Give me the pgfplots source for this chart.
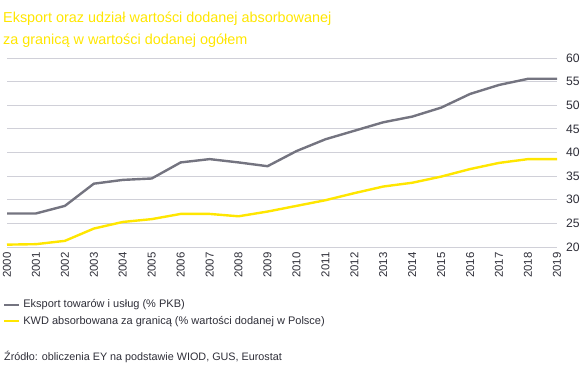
\documentclass[border=0pt]{standalone}
\usepackage{pgfplots}
\pgfplotsset{compat=1.18}
\usepackage{fontspec}
\setmainfont{Liberation Sans}
\definecolor{eyyellow}{HTML}{FFE600}
\definecolor{eygrey}{HTML}{747480}
\definecolor{gridc}{HTML}{D0D0D8}
\definecolor{txt}{HTML}{2E2E38}
\begin{document}
\begin{tikzpicture}
\useasboundingbox (0pt,0pt) rectangle (582pt,370pt);
\node[anchor=base west, inner sep=0, text=eyyellow, font=\fontsize{14.4}{16}\selectfont] at (3pt,347.3pt) {Eksport oraz udział wartości dodanej absorbowanej};
\node[anchor=base west, inner sep=0, text=eyyellow, font=\fontsize{14.4}{16}\selectfont] at (3pt,325pt) {za granicą w wartości dodanej ogółem};
\begin{axis}[
  at={(7pt,123pt)}, anchor=south west,
  scale only axis, width=550pt, height=189pt,
  xmin=2000, xmax=2019, ymin=20, ymax=60,
  axis line style={draw=none},
  tick style={draw=none},
  ymajorgrids, grid style={gridc, line width=0.9pt},
  xtick={2000,...,2019},
  ytick={20,25,...,60},
  yticklabel pos=right,
  x tick label style={rotate=90, anchor=east, font=\fontsize{11.4}{12}\selectfont, text=txt, /pgf/number format/1000 sep={}, xshift=-2pt},
  y tick label style={anchor=west, font=\fontsize{12.2}{12}\selectfont, text=txt, xshift=5.5pt},
  /pgf/number format/assume math mode=true,
  xticklabel style={/pgf/number format/1000 sep={}},
  legend style={at={(-0.0073,-0.268)}, anchor=north west, draw=none, fill=none,
    font=\fontsize{11}{12}\selectfont, text=txt, row sep=3pt, inner xsep=0pt, inner ysep=0pt,
    nodes={inner xsep=3pt}},
  legend cell align=left,
  legend image code/.code={\draw[#1, line width=2.2pt] (0pt,0pt) -- (15pt,0pt);},
  clip=false,
]
\addplot[eygrey, line width=2.4pt] coordinates {
(2000,27.1)(2001,27.1)(2002,28.7)(2003,33.4)(2004,34.2)(2005,34.5)(2006,37.9)(2007,38.6)(2008,37.9)(2009,37.1)
(2010,40.3)(2011,42.8)(2012,44.6)(2013,46.4)(2014,47.6)(2015,49.5)(2016,52.4)(2017,54.3)(2018,55.6)(2019,55.6)};
\addlegendentry{Eksport towarów i usług (\% PKB)}
\addplot[eyyellow, line width=2.4pt] coordinates {
(2000,20.5)(2001,20.6)(2002,21.3)(2003,23.9)(2004,25.3)(2005,25.9)(2006,27.0)(2007,27.0)(2008,26.5)(2009,27.5)
(2010,28.7)(2011,29.9)(2012,31.4)(2013,32.8)(2014,33.6)(2015,34.9)(2016,36.5)(2017,37.8)(2018,38.6)(2019,38.6)};
\addlegendentry{KWD absorbowana za granicą (\% wartości dodanej w Polsce)}
\end{axis}
\node[anchor=base west, inner sep=0, text=txt, font=\fontsize{10.8}{12}\selectfont] at (4pt,9.7pt) {Źródło: obliczenia EY na podstawie WIOD, GUS, Eurostat};
\end{tikzpicture}
\end{document}
